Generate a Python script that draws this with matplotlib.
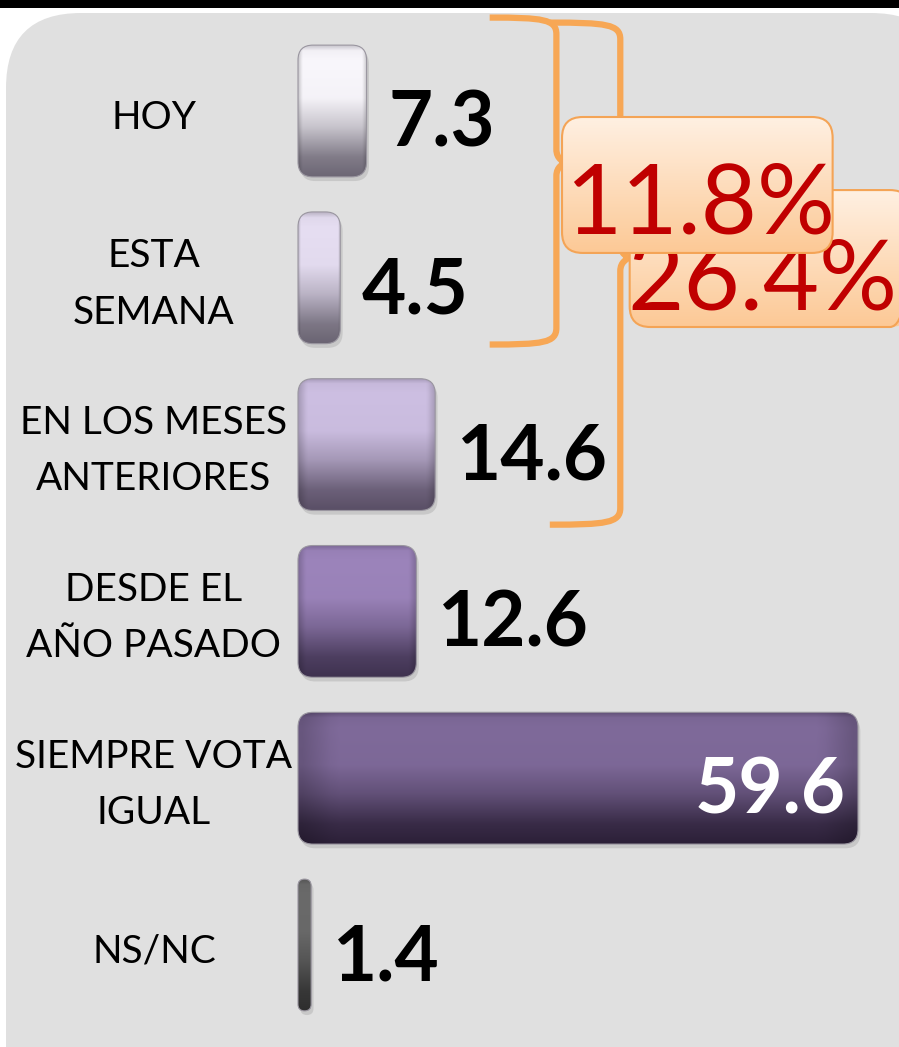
import matplotlib.pyplot as plt
import numpy as np
from matplotlib.patches import FancyBboxPatch, Rectangle
from matplotlib.path import Path
from matplotlib.patches import PathPatch
from matplotlib.colors import to_rgb

categories = ['HOY', 'ESTA\nSEMANA', 'EN LOS MESES\nANTERIORES', 'DESDE EL\nAÑO PASADO',
              'SIEMPRE VOTA\nIGUAL', 'NS/NC']
values = [7.3, 4.5, 14.6, 12.6, 59.6, 1.4]
top_colors = ['#f9f7fc', '#e6def2', '#cdbfe2', '#9c84bb', '#7f6a9a', '#6a6a6a']
bottom_colors = ['#6c6674', '#6a6472', '#5a4f66', '#3f3250', '#2c2038', '#2e2e2e']
sums = ['11.8%', '26.4%']

W, H = 899, 1047
fig = plt.figure(figsize=(W / 100, H / 100), dpi=100)
fig.patch.set_facecolor('white')

# fondo: panel gris y barra negra arriba (en pixeles)
bg = fig.add_axes([0, 0, 1, 1])
bg.set_xlim(0, W)
bg.set_ylim(H, 0)
bg.axis('off')
bg.add_patch(FancyBboxPatch((6, 13), 940, 1200, boxstyle='round,pad=0,rounding_size=75',
                            facecolor='#e0e0e0', edgecolor='none'))
bg.add_patch(FancyBboxPatch((-20, -30), W + 40, 38, boxstyle='round,pad=0,rounding_size=10',
                            facecolor='black', edgecolor='none'))

# ejes de las barras
px_x = 560 / 59.6      # pixeles por unidad
px_y = 166.8           # pixeles por categoria
ax = fig.add_axes([0, 0, 1, 1])
ax.patch.set_alpha(0)
ax.axis('off')
xlim = (-298 / px_x, (W - 298) / px_x)
ylim = ((H - 111) / px_y, -111 / px_y)

bar_h = 0.79
aspect = px_x / px_y
r_px = 15


def grad_img(c_top, c_bot, n=200, m=60):
    t = np.linspace(0, 1, n)
    w = np.interp(t, [0, 0.04, 0.12, 0.4, 0.62, 0.85, 1], [0.35, 0.05, 0, 0.03, 0.35, 0.85, 1.0])
    a = np.array(to_rgb(c_top))
    b = np.array(to_rgb(c_bot))
    col = a[None, :] * (1 - w[:, None]) + b[None, :] * w[:, None]
    s = np.linspace(0, 1, m)
    edge = 1 - 0.18 * (np.clip(1 - s / 0.06, 0, 1) + np.clip((s - 0.94) / 0.06, 0, 1))
    img = col[:, None, :] * edge[None, :, None]
    return np.clip(img, 0, 1)


for i, (v, ct, cb) in enumerate(zip(values, top_colors, bottom_colors)):
    r = min(r_px / px_x, v / 2)
    y0 = i - bar_h / 2
    # sombra
    sh = FancyBboxPatch((0.25, y0 + 0.025), v, bar_h,
                        boxstyle=f'round,pad=0,rounding_size={r}', mutation_aspect=aspect,
                        facecolor='#b8b8b8', edgecolor='none', alpha=0.6, zorder=1)
    ax.add_patch(sh)
    p = FancyBboxPatch((0, y0), v, bar_h, boxstyle=f'round,pad=0,rounding_size={r}',
                       mutation_aspect=aspect, facecolor='none', edgecolor='#9a96a0',
                       linewidth=0.8, zorder=3)
    ax.add_patch(p)
    im = ax.imshow(grad_img(ct, cb), extent=(0, v, i + bar_h / 2, y0), aspect='auto',
                   zorder=2, interpolation='bilinear')
    im.set_clip_path(p)

    # etiqueta de categoria
    ax.text(-144 / px_x, i + 0.04, categories[i], ha='center', va='center', fontsize=28,
            family='Lato', color='black', linespacing=1.7, zorder=5)
    # valor
    if v > 40:
        ax.text(v - 1.3, i + 0.08, f'{v:.1f}', ha='right', va='center', fontsize=55,
                family='Lato', weight='bold', color='white', zorder=5)
    else:
        ax.text(v + 2.3, i + 0.08, f'{v:.1f}', ha='left', va='center', fontsize=55,
                family='Lato', weight='bold', color='black', zorder=5)


def brace(x_end, x_line, y_top, y_bot, y_mid, zorder=4):
    dx = x_line - x_end
    cy = 0.1
    cusp = 0.8
    verts = [(x_end, y_top), (x_end + dx * 0.8, y_top), (x_line, y_top + 0.01), (x_line, y_top + cy),
             (x_line, y_mid - 0.08),
             (x_line, y_mid - 0.02), (x_line + cusp, y_mid - 0.01), (x_line + cusp, y_mid),
             (x_line + cusp, y_mid + 0.01), (x_line, y_mid + 0.02), (x_line, y_mid + 0.08),
             (x_line, y_bot - cy),
             (x_line, y_bot - 0.01), (x_end + dx * 0.8, y_bot), (x_end, y_bot)]
    codes = [Path.MOVETO, Path.CURVE4, Path.CURVE4, Path.CURVE4, Path.LINETO,
             Path.CURVE4, Path.CURVE4, Path.CURVE4, Path.CURVE4, Path.CURVE4, Path.CURVE4,
             Path.LINETO, Path.CURVE4, Path.CURVE4, Path.CURVE4]
    ax.add_patch(PathPatch(Path(verts, codes), facecolor='none', edgecolor='#f7a755',
                           linewidth=4.5, capstyle='butt', joinstyle='round', zorder=zorder))


# llaves: HOY + ESTA SEMANA y HOY .. MESES ANTERIORES
brace(20.4, 27.5, -0.56, 1.40, 0.31)
brace(26.8, 34.3, -0.53, 2.48, 0.88)


def sum_box(x0, x1, y0, y1, txt, tx, ty, z):
    p = FancyBboxPatch((x0, y0), x1 - x0, y1 - y0, boxstyle='round,pad=0,rounding_size=2.2',
                       mutation_aspect=aspect, facecolor='none', edgecolor='#f4a456',
                       linewidth=1.5, zorder=z + 0.2)
    ax.add_patch(p)
    t = np.linspace(0, 1, 100)[:, None, None]
    a = np.array(to_rgb('#fff0e2'))
    b = np.array(to_rgb('#fcc996'))
    img = np.repeat(a * (1 - t) + b * t, 10, axis=1)
    im = ax.imshow(img, extent=(x0, x1, y1, y0), aspect='auto', zorder=z,
                   interpolation='bilinear')
    im.set_clip_path(p)
    ax.text(tx, ty, txt, ha='center', va='center', fontsize=70, family='Lato',
            color='#c00000', zorder=z + 0.4)


sum_box(35.3, 65.2, 0.474, 1.295, sums[1], 35.3 + (763 - 630) / px_x, 1.03, 6)
sum_box(28.1, 56.9, 0.036, 0.851, sums[0], 28.1 + (700 - 562) / px_x, 0.57, 7)

ax.set_xlim(*xlim)
ax.set_ylim(*ylim)

plt.savefig('out.png', dpi=100)
plt.close()
